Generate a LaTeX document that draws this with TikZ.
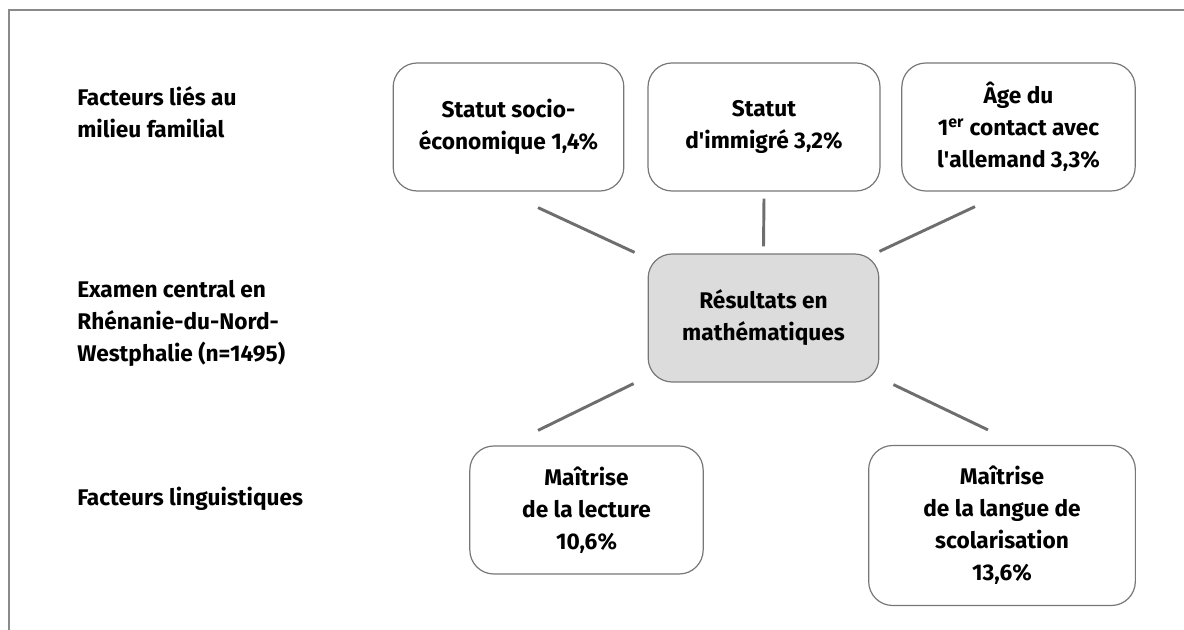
\documentclass[tikz,border=0pt]{standalone}
\usepackage{fontspec}
\setmainfont{Fira Sans}
\usetikzlibrary{calc}

\definecolor{framegray}{HTML}{8A8A8A}
\definecolor{boxgray}{HTML}{777777}
\definecolor{linkgray}{HTML}{6E6E6E}
\definecolor{hubfill}{HTML}{DCDCDC}

\tikzset{
  txt/.style={font=\fontsize{17}{24}\selectfont\bfseries},
  factor/.style={txt, draw=boxgray, line width=0.9pt, rounded corners=18pt,
    align=center, inner sep=0pt},
  hub/.style={factor, fill=hubfill},
  rowlabel/.style={txt, align=left, anchor=base west, inner sep=0pt},
  link/.style={draw=linkgray, line width=2.2pt},
}

\begin{document}
\begin{tikzpicture}[x=0.75pt,y=-0.75pt]
\useasboundingbox (0,0) rectangle (1184,630);
\draw[framegray, line width=1.4pt] (9,630) -- (9,10) -- (1184,10);

% row labels (base = last line)
\node[rowlabel] (famille) at (77,138) {Facteurs liés au\\milieu familial};
\node[rowlabel] (examen) at (77,362) {Examen central en\\Rhénanie-du-Nord-\\Westphalie (n=1495)};
\node[rowlabel] (langue) at (77,505) {Facteurs linguistiques};

% boxes
\node[factor, minimum width=173pt, minimum height=96pt] (soc) at (508.5,127)
  {Statut socio-\\économique 1,4\%};
\node[factor, minimum width=174pt, minimum height=96pt] (imm) at (764,127)
  {Statut\\d\textquotesingle immigré 3,2\%};
\node[factor, minimum width=175pt, minimum height=96pt] (age) at (1018.5,127)
  {Âge du\\1\textsuperscript{er} contact avec\\l\textquotesingle allemand 3,3\%};
\node[hub, minimum width=173pt, minimum height=96pt] (res) at (763.5,318)
  {Résultats en\\mathématiques};
\node[factor, minimum width=175pt, minimum height=96pt] (lec) at (586.5,510)
  {Maîtrise\\de la lecture\\10,6\%};
\node[factor, minimum width=200pt, minimum height=120pt] (scol) at (1002,525.5)
  {Maîtrise\\de la langue de\\scolarisation\\13,6\%};

% links
\draw[link] ($(soc.south)+(29.5,16)$) -- ($(res.north west)+(-13,-1)$);
\draw[link] ($(imm.south)+(0,7)$) -- ($(res.north)+(0,-7)$);
\draw[link] ($(res.north east)+(0,-2)$) -- ($(age.south)+(-43.5,15)$);
\draw[link] ($(res.south west)+(-14,1)$) -- ($(lec.north)+(-48.5,-15)$);
\draw[link] ($(res.south east)+(14,2)$) -- ($(scol.north)+(-14,-15)$);
\end{tikzpicture}
\end{document}
